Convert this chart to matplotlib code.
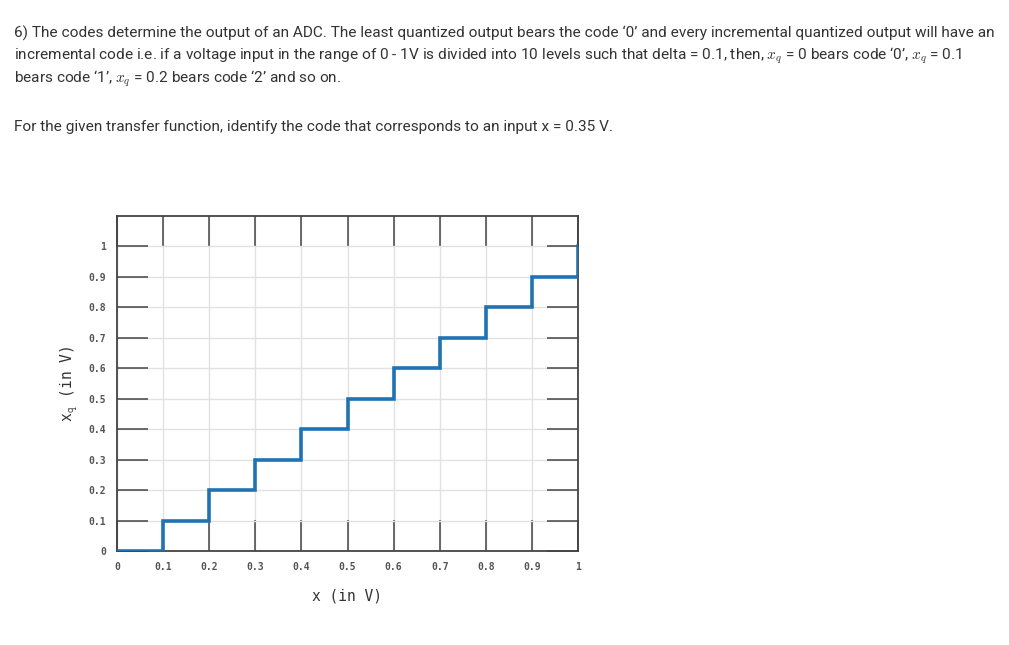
import matplotlib
matplotlib.use('Agg')
import matplotlib.pyplot as plt

# transfer function of the ADC: input x and quantized output xq
x_in = [0, 0.1, 0.2, 0.3, 0.4, 0.5, 0.6, 0.7, 0.8, 0.9, 1.0]
x_q = [0, 0.1, 0.2, 0.3, 0.4, 0.5, 0.6, 0.7, 0.8, 0.9, 1.0]
tick_vals = [0, 0.1, 0.2, 0.3, 0.4, 0.5, 0.6, 0.7, 0.8, 0.9, 1.0]
tick_labels = ['0', '0.1', '0.2', '0.3', '0.4', '0.5', '0.6', '0.7', '0.8', '0.9', '1']

question_lines = [
    "6) The codes determine the output of an ADC. The least quantized output bears the code \u20180\u2019 and every incremental quantized output will have an",
    "incremental code i.e. if a voltage input in the range of 0 - 1V is divided into 10 levels such that delta = 0.1, then, $x_q$ = 0 bears code \u20180\u2019, $x_q$ = 0.1",
    "bears code \u20181\u2019, $x_q$ = 0.2 bears code \u20182\u2019 and so on.",
]
prompt = "For the given transfer function, identify the code that corresponds to an input x = 0.35 V."

plt.rcParams['mathtext.fontset'] = 'cm'

fig = plt.figure(figsize=(10.09, 6.45), dpi=100)

txt_color = '#333333'
for i, line in enumerate(question_lines):
    fig.text(14 / 1009, 1 - (33 + i * 23) / 645, line, fontsize=11.1, family='Roboto',
             color=txt_color, va='center', ha='left')
fig.text(14 / 1009, 1 - 127 / 645, prompt, fontsize=11.1, family='Roboto',
         color=txt_color, va='center', ha='left')

ax = fig.add_axes([117 / 1009, 94 / 645, 461 / 1009, 335 / 645])
ax.plot(x_in, x_q, drawstyle='steps-post', color='#1f72b4', lw=2.6, zorder=3,
        solid_joinstyle='miter')

ax.set_xlim(0, 1.0)
ax.set_ylim(0, 1.1)
ax.set_xticks(tick_vals)
ax.set_xticklabels(tick_labels)
ax.set_yticks(tick_vals)
ax.set_yticklabels(tick_labels)
ax.tick_params(direction='in', length=22, width=1.1, color='#444444',
               top=True, right=True, labelsize=7, labelcolor='#555555', pad=8)
for lab in ax.get_xticklabels() + ax.get_yticklabels():
    lab.set_family('DejaVu Sans Mono')
    lab.set_weight('bold')

ax.grid(True, color='#e2e2e2', lw=1, zorder=0)
for sp in ax.spines.values():
    sp.set_color('#444444')
    sp.set_linewidth(1.3)

ax.set_xlabel('x (in V)', family='DejaVu Sans Mono', fontsize=10.5, color=txt_color, labelpad=12)
ax.set_ylabel(r'x$_\mathtt{q}$ (in V)', family='DejaVu Sans Mono', fontsize=10.5,
              color=txt_color, labelpad=6)

fig.savefig('out.png', dpi=100)
